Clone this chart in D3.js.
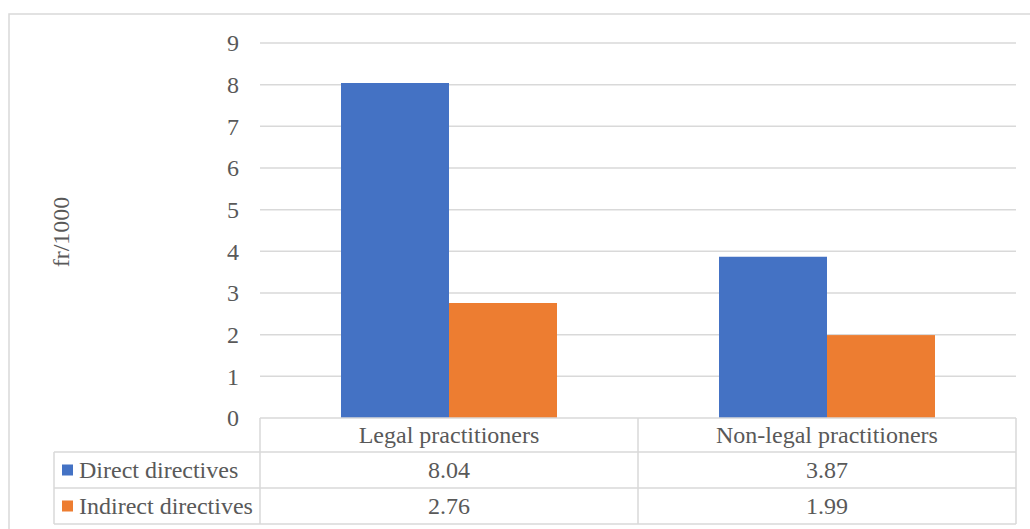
<!DOCTYPE html>
<html><head><meta charset="utf-8">
<script src="https://cdn.jsdelivr.net/npm/d3@7"></script>
<style>body{margin:0;background:#fff;}svg{display:block;}svg text{font-family:'Liberation Serif','Times New Roman',serif !important;fill:#595959;}</style>
</head><body>
<script>
const categories = ["Legal practitioners", "Non-legal practitioners"];
const seriesNames = ["Direct directives", "Indirect directives"];
const directValues = [8.04, 3.87];
const indirectValues = [2.76, 1.99];
const seriesColors = ["#4472C4", "#ED7D31"];
const yTicks = [0,1,2,3,4,5,6,7,8,9];
const yTitle = "fr/1000";

const W = 1030, H = 529;
const FONT = "'Liberation Serif','Times New Roman',serif";
const svg = d3.select("body").append("svg").attr("width", W).attr("height", H)
  .style("font-family", FONT);
const fs = 24;
const grid = "#d9d9d9";

// outer chart border
svg.append("rect").attr("x", 9).attr("y", 14).attr("width", 1040).attr("height", 540)
  .attr("fill", "none").attr("stroke", grid).attr("stroke-width", 1.5);

const plotL = 260, plotR = 1016, plotT = 43, plotB = 418;
const y = d3.scaleLinear().domain([0, 9]).range([plotB, plotT]);
const x0 = d3.scaleBand().domain(categories).range([plotL, plotR]).paddingInner(0).paddingOuter(0);
const barW = x0.bandwidth() / (2 + 1.5);
const x1 = d3.scaleBand().domain(seriesNames).range([0, barW * 2]);

// gridlines
svg.append("g").selectAll("line").data(yTicks.filter(t => t > 0)).join("line")
  .attr("x1", plotL).attr("x2", plotR).attr("y1", d => y(d)).attr("y2", d => y(d))
  .attr("stroke", grid).attr("stroke-width", 1.5);

// y axis labels
const yAxis = d3.axisLeft(y).tickValues(yTicks).tickSize(0).tickPadding(0).tickFormat(d3.format("d"));
const ya = svg.append("g").attr("transform", `translate(${239},0)`).call(yAxis)
  .attr("font-family", null).attr("font-size", null);
ya.select(".domain").remove();
ya.selectAll("text").attr("font-size", fs).style("font-family", FONT).attr("fill", "#595959");

// y title
svg.append("text").attr("transform", `translate(69,232) rotate(-90)`).attr("text-anchor", "middle")
  .attr("font-size", fs).style("font-family", FONT).text(yTitle);

// bars
const seriesData = [directValues, indirectValues];
const g = svg.append("g");
categories.forEach((c, ci) => {
  seriesNames.forEach((s, si) => {
    const v = seriesData[si][ci];
    g.append("rect")
      .attr("x", x0(c) + barW * 0.75 + x1(s))
      .attr("y", y(v))
      .attr("width", x1.bandwidth())
      .attr("height", y(0) - y(v))
      .attr("fill", seriesColors[si]);
  });
});

// data table
const legL = 54, rowTops = [plotB, 452, 488, 524];
const tg = svg.append("g");
const ln = (x1_, y1_, x2_, y2_) => tg.append("line").attr("x1", x1_).attr("y1", y1_).attr("x2", x2_).attr("y2", y2_)
  .attr("stroke", grid).attr("stroke-width", 1.5);
ln(plotL, plotB, plotR, plotB);
ln(legL, rowTops[1], plotR, rowTops[1]);
ln(legL, rowTops[2], plotR, rowTops[2]);
ln(legL, rowTops[3], plotR, rowTops[3]);
ln(legL, rowTops[1], legL, rowTops[3]);
ln(plotL, plotB, plotL, rowTops[3]);
categories.forEach(c => ln(x0(c) + x0.bandwidth(), plotB, x0(c) + x0.bandwidth(), rowTops[3]));

categories.forEach(c => {
  tg.append("text").attr("x", x0(c) + x0.bandwidth() / 2).attr("y", (rowTops[0] + rowTops[1]) / 2)
    .attr("dy", "0.35em").attr("text-anchor", "middle").attr("font-size", fs).style("font-family", FONT).text(c);
});
seriesNames.forEach((s, si) => {
  const cy = (rowTops[si + 1] + rowTops[si + 2]) / 2;
  tg.append("rect").attr("x", 62).attr("y", cy - 5.5).attr("width", 11).attr("height", 11).attr("fill", seriesColors[si]);
  tg.append("text").attr("x", 79).attr("y", cy).attr("dy", "0.35em").attr("font-size", fs).style("font-family", FONT).text(s);
  categories.forEach((c, ci) => {
    tg.append("text").attr("x", x0(c) + x0.bandwidth() / 2).attr("y", cy).attr("dy", "0.35em")
      .attr("text-anchor", "middle").attr("font-size", fs).style("font-family", FONT).text(d3.format(".2f")(seriesData[si][ci]));
  });
});
</script>
</body></html>
